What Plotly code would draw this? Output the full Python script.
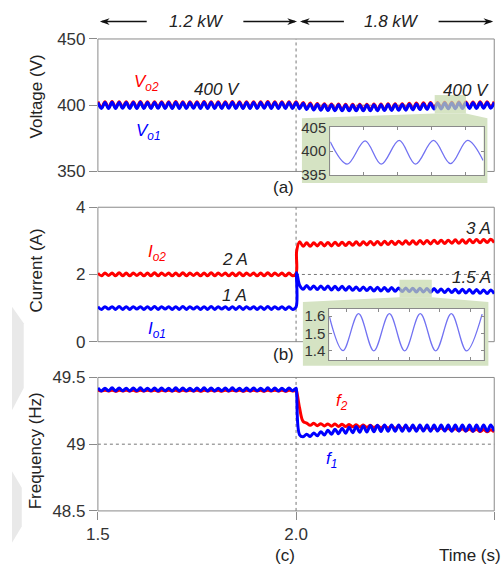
import numpy as np
import plotly.graph_objects as go

W, H = 504, 577
def px(x): return x / W
def py(y): return 1 - y / H

# ---------------- data ----------------
# sampling instants: ripple extrema (half periods)
T_PRE = np.linspace(1.5, 2.0, 57).tolist()
T_POST = np.linspace(2.0, 2.5, 57)[1:].tolist()
T_STEP = [2.0015]

VO1_PRE = [402.1, 397.6, 402.0, 397.5, 402.2, 397.6, 402.1, 397.7, 402.0, 397.6,
           402.1, 397.5, 402.2, 397.6, 402.0, 397.6, 402.1, 397.7, 402.1, 397.6,
           402.0, 397.5, 402.2, 397.6, 402.1, 397.6, 402.0, 397.7, 402.1, 397.6,
           402.2, 397.5, 402.1, 397.6, 402.0, 397.6, 402.1, 397.7, 402.2, 397.6,
           402.0, 397.5, 402.1, 397.6, 402.1, 397.6, 402.0, 397.7, 402.2, 397.6,
           402.1, 397.5, 402.0, 397.6, 402.1, 397.6, 402.0]
VO2_PRE = [402.7, 398.2, 402.6, 398.1, 402.8, 398.2, 402.7, 398.3, 402.6, 398.2,
           402.7, 398.1, 402.8, 398.2, 402.6, 398.2, 402.7, 398.3, 402.7, 398.2,
           402.6, 398.1, 402.8, 398.2, 402.7, 398.2, 402.6, 398.3, 402.7, 398.2,
           402.8, 398.1, 402.7, 398.2, 402.6, 398.2, 402.7, 398.3, 402.8, 398.2,
           402.6, 398.1, 402.7, 398.2, 402.7, 398.2, 402.6, 398.3, 402.8, 398.2,
           402.7, 398.1, 402.6, 398.2, 402.7, 398.2, 402.6]
VO1_POST = [397.4, 401.5, 396.8, 401.0, 396.4, 400.7, 396.2, 400.5, 396.0, 400.4,
            395.9, 400.3, 395.8, 400.2, 395.8, 400.2, 395.8, 400.2, 395.8, 400.2,
            395.8, 400.3, 395.9, 400.4, 396.0, 400.5, 396.1, 400.6, 396.2, 400.6,
            396.3, 400.8, 396.5, 401.0, 396.7, 401.2, 396.9, 401.4, 397.1, 401.5,
            397.2, 401.6, 397.3, 401.7, 397.4, 401.8, 397.5, 401.9, 397.6, 401.9,
            397.6, 402.0, 397.7, 402.0, 397.8, 402.1]
VO2_POST = [398.0, 402.1, 397.4, 401.6, 397.0, 401.3, 396.8, 401.1, 396.6, 401.0,
            396.5, 400.9, 396.4, 400.8, 396.4, 400.8, 396.4, 400.8, 396.4, 400.8,
            396.4, 400.9, 396.5, 401.0, 396.6, 401.1, 396.7, 401.2, 396.8, 401.2,
            396.9, 401.4, 397.1, 401.6, 397.3, 401.8, 397.5, 402.0, 397.7, 402.1,
            397.8, 402.2, 397.9, 402.3, 398.0, 402.4, 398.1, 402.5, 398.2, 402.5,
            398.2, 402.6, 398.3, 402.6, 398.4, 402.7]

IO1_PRE = [1.04, 0.96, 1.04, 0.97, 1.04, 0.96, 1.05, 0.96, 1.04, 0.96,
           1.04, 0.97, 1.04, 0.96, 1.04, 0.96, 1.05, 0.96, 1.04, 0.97,
           1.04, 0.96, 1.04, 0.96, 1.05, 0.96, 1.04, 0.97, 1.04, 0.96,
           1.04, 0.96, 1.05, 0.96, 1.04, 0.97, 1.04, 0.96, 1.04, 0.96,
           1.05, 0.96, 1.04, 0.97, 1.04, 0.96, 1.04, 0.96, 1.05, 0.96,
           1.04, 0.97, 1.04, 0.96, 1.04, 0.96, 1.03]
IO2_PRE = [2.04, 1.96, 2.04, 1.97, 2.04, 1.96, 2.05, 1.96, 2.04, 1.96,
           2.04, 1.97, 2.04, 1.96, 2.04, 1.96, 2.05, 1.96, 2.04, 1.97,
           2.04, 1.96, 2.04, 1.96, 2.05, 1.96, 2.04, 1.97, 2.04, 1.96,
           2.04, 1.96, 2.05, 1.96, 2.04, 1.97, 2.04, 1.96, 2.04, 1.96,
           2.05, 1.96, 2.04, 1.97, 2.04, 1.96, 2.04, 1.96, 2.05, 1.96,
           2.04, 1.97, 2.04, 1.96, 2.04, 1.96, 2.03]
IO1_POST = [2.05, 1.68, 1.56, 1.67, 1.56, 1.66, 1.55, 1.66, 1.55, 1.66, 1.54,
            1.65, 1.54, 1.65, 1.53, 1.64, 1.53, 1.63, 1.52, 1.63, 1.52,
            1.62, 1.51, 1.62, 1.51, 1.61, 1.50, 1.61, 1.50, 1.60, 1.49,
            1.60, 1.49, 1.59, 1.48, 1.59, 1.48, 1.58, 1.47, 1.58, 1.47,
            1.57, 1.46, 1.57, 1.46, 1.56, 1.45, 1.56, 1.45, 1.55, 1.44,
            1.55, 1.44, 1.54, 1.43, 1.54, 1.43]
IO2_POST = [2.70, 2.97, 2.84, 2.94, 2.84, 2.94, 2.85, 2.95, 2.85, 2.95, 2.85,
            2.96, 2.86, 2.96, 2.86, 2.96, 2.87, 2.97, 2.87, 2.97, 2.88,
            2.98, 2.88, 2.98, 2.88, 2.99, 2.89, 2.99, 2.89, 2.99, 2.90,
            3.00, 2.90, 3.00, 2.90, 3.01, 2.91, 3.01, 2.91, 3.02, 2.92,
            3.02, 2.92, 3.02, 2.93, 3.03, 2.93, 3.03, 2.93, 3.04, 2.94,
            3.04, 2.94, 3.04, 2.95, 3.05, 2.95]

F1_PRE = [49.421, 49.399, 49.420, 49.400, 49.422, 49.399, 49.421, 49.400, 49.420, 49.398,
          49.421, 49.400, 49.422, 49.399, 49.420, 49.400, 49.421, 49.399, 49.421, 49.400,
          49.420, 49.398, 49.422, 49.399, 49.421, 49.400, 49.420, 49.399, 49.421, 49.400,
          49.422, 49.398, 49.421, 49.399, 49.420, 49.400, 49.421, 49.399, 49.422, 49.400,
          49.420, 49.398, 49.421, 49.399, 49.421, 49.400, 49.420, 49.399, 49.422, 49.400,
          49.421, 49.398, 49.420, 49.399, 49.421, 49.400, 49.420]
F2_PRE = [49.405, 49.398, 49.404, 49.398, 49.405, 49.397, 49.404, 49.398, 49.405, 49.398,
          49.404, 49.397, 49.405, 49.398, 49.404, 49.398, 49.405, 49.397, 49.404, 49.398,
          49.405, 49.398, 49.404, 49.397, 49.405, 49.398, 49.404, 49.398, 49.405, 49.397,
          49.404, 49.398, 49.405, 49.398, 49.404, 49.397, 49.405, 49.398, 49.404, 49.398,
          49.405, 49.397, 49.404, 49.398, 49.405, 49.398, 49.404, 49.397, 49.405, 49.398,
          49.404, 49.398, 49.405, 49.397, 49.404, 49.398, 49.402]
F1_POST = [49.380, 49.070, 49.056, 49.075, 49.058, 49.084, 49.063, 49.094, 49.069, 49.104, 49.074,
           49.112, 49.078, 49.120, 49.082, 49.127, 49.086, 49.132, 49.089, 49.137, 49.091,
           49.140, 49.093, 49.142, 49.095, 49.143, 49.096, 49.143, 49.097, 49.144, 49.097,
           49.143, 49.098, 49.144, 49.097, 49.143, 49.098, 49.144, 49.097, 49.143, 49.098,
           49.144, 49.098, 49.143, 49.097, 49.144, 49.098, 49.143, 49.098, 49.144, 49.097,
           49.143, 49.098, 49.144, 49.098, 49.143, 49.097]
F2_POST = [49.395, 49.270, 49.170, 49.158, 49.141, 49.156, 49.139, 49.154, 49.137, 49.152, 49.135,
           49.151, 49.133, 49.149, 49.132, 49.147, 49.130, 49.145, 49.128, 49.143, 49.126,
           49.141, 49.124, 49.139, 49.122, 49.137, 49.120, 49.135, 49.118, 49.133, 49.116,
           49.131, 49.114, 49.129, 49.112, 49.127, 49.110, 49.126, 49.109, 49.124, 49.107,
           49.122, 49.105, 49.120, 49.103, 49.118, 49.101, 49.116, 49.099, 49.114, 49.097,
           49.112, 49.095, 49.110, 49.093, 49.108, 49.091]

# zoomed insets
INSET_A_T = [2.3500, 2.3588, 2.3682, 2.3766, 2.3860, 2.3945, 2.4039, 2.4128, 2.4217, 2.4298]
INSET_A_V = [402.0, 397.2, 402.2, 397.2, 402.3, 397.2, 402.3, 397.3, 402.3, 398.0]
INSET_B_T = [2.3700, 2.3771, 2.3852, 2.3931, 2.4012, 2.4091, 2.4172, 2.4252, 2.4333, 2.4412, 2.4493]
INSET_B_I = [1.600, 1.400, 1.615, 1.398, 1.615, 1.398, 1.615, 1.398, 1.615, 1.398, 1.612]

# ---------------- style ----------------
FONT = "Liberation Sans, Arial, sans-serif"
TICKC = "#333333"
LINEC = "#8a8a8a"
RED, BLUE = "#ff0000", "#0000ff"
INSETC = "#7272f2"
GREEN = "#d5e3c3"

fig = go.Figure()
def add(x, y, color, xa, ya, width=3):
    fig.add_trace(go.Scatter(x=x, y=y, mode="lines",
                             line=dict(color=color, width=width, shape="spline", smoothing=1.0),
                             xaxis=xa, yaxis=ya, hoverinfo="skip", showlegend=False))

add(T_PRE + T_POST, VO2_PRE + VO2_POST, RED, "x", "y")
add(T_PRE + T_POST, VO1_PRE + VO1_POST, BLUE, "x", "y")
add(T_PRE + T_STEP + T_POST, IO2_PRE + IO2_POST, RED, "x2", "y2")
add(T_PRE + T_STEP + T_POST, IO1_PRE + IO1_POST, BLUE, "x2", "y2")
add(T_PRE + T_STEP + T_POST, F2_PRE + F2_POST, RED, "x3", "y3")
add(T_PRE + T_STEP + T_POST, F1_PRE + F1_POST, BLUE, "x3", "y3")
add(INSET_A_T, INSET_A_V, INSETC, "x4", "y4", 1.3)
add(INSET_B_T, INSET_B_I, INSETC, "x5", "y5", 1.3)

tickfont = dict(size=17, color=TICKC, family=FONT)
def main_y(dom, rng, vals, texts, anchor):
    return dict(domain=dom, range=rng, tickvals=vals, ticktext=texts, ticks="outside", ticklen=8,
                tickcolor=LINEC, tickfont=tickfont, showline=False, showgrid=False,
                zeroline=False, anchor=anchor, fixedrange=True)
def main_x(anchor, labels=False):
    d = dict(domain=[px(88), px(494)], range=[1.5, 2.5], showgrid=False, zeroline=False,
             showline=False, anchor=anchor, fixedrange=True)
    if labels:
        d.update(tickvals=[1.5, 2.0, 2.5], ticktext=["1.5", "2.0", "2.5"], ticks="outside",
                 ticklen=8, tickcolor=LINEC, tickfont=tickfont)
    else:
        d.update(showticklabels=False, ticks="")
    return d

inset_font = dict(size=15, color=TICKC, family=FONT)
def inset_x(dom, rng, ticks, anchor):
    return dict(domain=dom, range=rng, tickvals=ticks, showticklabels=False, ticks="inside",
                ticklen=3, tickcolor=LINEC, showline=True, mirror="ticks", linecolor=LINEC,
                linewidth=1, showgrid=False, zeroline=False, anchor=anchor)
def inset_y(dom, rng, ticks, anchor):
    return dict(domain=dom, range=rng, tickvals=ticks, tickfont=inset_font, ticks="inside",
                ticklen=3, tickcolor=LINEC, showline=True, mirror="ticks", linecolor=LINEC,
                linewidth=1, showgrid=False, zeroline=False, anchor=anchor)

def tpx_a(p): return 2.35 + 0.08 * (p - 326) / 157
def tpx_b(p): return 2.37 + 0.08 * (p - 325) / 158

fig.update_layout(
    width=W, height=H, margin=dict(l=0, r=0, t=0, b=0),
    paper_bgcolor="white", plot_bgcolor="rgba(0,0,0,0)", showlegend=False,
    font=dict(family=FONT, size=17, color="#222"),
    xaxis=main_x("y"), xaxis2=main_x("y2"), xaxis3=main_x("y3", True),
    yaxis=main_y([py(168), py(31)], [350, 450], [350, 400, 450], ["350", "400", "450"], "x"),
    yaxis2=main_y([py(344), py(205)], [0, 4], [0, 2, 4], ["0", "2", "4"], "x2"),
    yaxis3=main_y([py(519), py(381)], [48.5, 49.5], [48.5, 49, 49.5], ["48.5", "49", "49.5"], "x3"),
    xaxis4=inset_x([px(326), px(483)], [2.35, 2.43], [tpx_a(p) for p in (360, 395, 430, 465)], "y4"),
    yaxis4=inset_y([py(172), py(122)], [394.8, 405.2], [395, 400, 405], "x4"),
    xaxis5=inset_x([px(325), px(483)], [2.37, 2.45], [tpx_b(p) for p in (343, 375, 407, 438, 470)], "y5"),
    yaxis5=inset_y([py(363), py(310)], [1.345, 1.643], [1.4, 1.5, 1.6], "x5"),
)

shapes = []
# panel frames
for (t, b) in [(31, 168), (205, 344), (381, 519)]:
    shapes.append(dict(type="rect", xref="paper", yref="paper", x0=px(88), x1=px(494),
                       y0=py(b), y1=py(t), line=dict(color=LINEC, width=1), layer="below"))
# dotted reference lines
for (t, b) in [(31, 168), (205, 344), (381, 519)]:
    shapes.append(dict(type="line", xref="x", yref="paper", x0=2.0, x1=2.0, y0=py(b), y1=py(t),
                       line=dict(color="#777", width=1, dash="dot"), layer="below"))
for (yr, v) in [("y", 400), ("y2", 2), ("y3", 49)]:
    shapes.append(dict(type="line", xref="paper", yref=yr, x0=px(88), x1=px(494), y0=v, y1=v,
                       line=dict(color="#777", width=1, dash="dot"), layer="below"))

def path(pts):
    return "M " + " L ".join(f"{px(a):.5f},{py(b):.5f}" for a, b in pts) + " Z"

# green callout boxes
shapes.append(dict(type="path", xref="paper", yref="paper", layer="below", fillcolor=GREEN,
                   line=dict(width=0),
                   path=path([(433, 108), (465, 108), (487, 113), (487, 180), (297, 180), (297, 113)])))
shapes.append(dict(type="path", xref="paper", yref="paper", layer="below", fillcolor=GREEN,
                   line=dict(width=0),
                   path=path([(397, 298), (430, 298), (488, 303), (488, 369), (298, 369), (298, 303)])))
# inset plot backgrounds
shapes.append(dict(type="rect", xref="paper", yref="paper", layer="below", fillcolor="white",
                   line=dict(width=0), x0=px(326), x1=px(483), y0=py(172), y1=py(122)))
shapes.append(dict(type="rect", xref="paper", yref="paper", layer="below", fillcolor="white",
                   line=dict(width=0), x0=px(325), x1=px(483), y0=py(363), y1=py(310)))
# highlight windows over traces
for (x0, x1, y0, y1) in [(433, 465, 89, 108), (397, 430, 280, 298)]:
    shapes.append(dict(type="rect", xref="paper", yref="paper", layer="above",
                       fillcolor="rgba(198,217,172,0.72)", line=dict(width=0),
                       x0=px(x0), x1=px(x1), y0=py(y1), y1=py(y0)))
# faint page decorations at the left edge
shapes.append(dict(type="path", xref="paper", yref="paper", layer="below", fillcolor="#e9e9e9",
                   line=dict(width=0), path=path([(0, 308), (12, 325), (12, 392), (0, 415)])))
shapes.append(dict(type="path", xref="paper", yref="paper", layer="below", fillcolor="#e9e9e9",
                   line=dict(width=0), path=path([(0, 478), (10, 495), (10, 535), (0, 552)])))

# load-interval arrows at the top (line + filled head)
def arrow(head, tail, y=13):
    d = 1 if tail > head else -1
    shapes.append(dict(type="line", xref="paper", yref="paper", layer="above",
                       x0=px(head + d * 2), x1=px(tail), y0=py(y), y1=py(y),
                       line=dict(color="#111", width=1.5)))
    shapes.append(dict(type="path", xref="paper", yref="paper", layer="above", fillcolor="#111",
                       line=dict(width=0),
                       path=path([(head, y), (head + d * 10, y - 3.5), (head + d * 7, y),
                                  (head + d * 10, y + 3.5)])))
arrow(90, 138); arrow(292, 237); arrow(295, 340); arrow(493, 437)
fig.update_layout(shapes=shapes)

def note(x, y, text, color="#222", size=17, angle=0):
    fig.add_annotation(x=px(x), y=py(y), xref="paper", yref="paper", text=text, showarrow=False,
                       font=dict(family=FONT, size=size, color=color), textangle=angle,
                       xanchor="center", yanchor="middle")

note(189, 13, "<i>1.2 kW</i>")
note(389, 13, "<i>1.8 kW</i>")

note(138, 77, "<i>V<sub>o2</sub></i>", RED)
note(210, 83, "<i>400 V</i>")
note(140, 127, "<i>V<sub>o1</sub></i>", BLUE)
note(465, 84, "<i>400 V</i>")
note(278, 185, "(a)")

note(149, 252, "<i>I<sub>o2</sub></i>", RED)
note(228, 259, "<i>2 A</i>")
note(228, 296, "<i>1 A</i>")
note(149, 332, "<i>I<sub>o1</sub></i>", BLUE)
note(478, 227, "<i>3 A</i>")
note(471, 278, "<i>1.5 A</i>")
note(278, 357, "(b)")

note(338, 406, "<i>f<sub>2</sub></i>", RED)
note(327, 466, "<i>f<sub>1</sub></i>", BLUE)
note(280, 565, "(c)")
note(469, 565, "Time (s)")

note(25, 90, "Voltage (V)", angle=-90)
note(25, 270, "Current (A)", angle=-90)
note(25, 457, "Frequency (Hz)", angle=-90)

fig.write_html("out.html")
